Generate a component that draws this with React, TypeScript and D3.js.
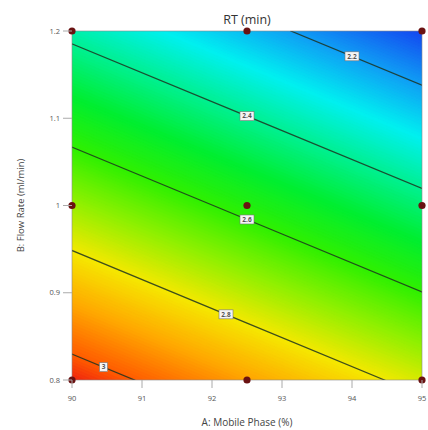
import React from "react";
import * as d3 from "d3";

// ---- data ----
const gridA = [90, 92.5, 95];
const gridB = [0.8, 1.0, 1.2];
// RT (min) at the grid points, rows by B (0.8, 1.0, 1.2), columns by A
const rtGrid = [
  [3.05, 2.91, 2.77],
  [2.713, 2.573, 2.433],
  [2.375, 2.235, 2.095],
];
const contourLevels = [2.2, 2.4, 2.6, 2.8, 3.0];
const contourLabels = ["2.2", "2.4", "2.6", "2.8", "3"];
const labelA = [94.0, 92.5, 92.5, 92.2, 90.45];
const designA = [90, 92.5, 95, 90, 92.5, 95, 90, 92.5, 95];
const designB = [0.8, 0.8, 0.8, 1.0, 1.0, 1.0, 1.2, 1.2, 1.2];
const xTicks = [90, 91, 92, 93, 94, 95];
const yTicks = [0.8, 0.9, 1, 1.1, 1.2];
const colorStops = [2.094, 2.2, 2.3, 2.4, 2.5, 2.6, 2.7, 2.8, 2.9, 3.0, 3.05];
const colorList = [
  "#1448f0", "#10a0f5", "#00f0f0", "#00f090", "#00ee30", "#30f000",
  "#90f000", "#f5e800", "#ffa800", "#ff5a00", "#ee2010",
];

const W = 428, H = 430;
const FONT = "'Open Sans', 'Noto Sans', sans-serif";

export default function App() {
  const x = d3.scaleLinear().domain([90, 95]).range([72, 422]);
  const y = d3.scaleLinear().domain([0.8, 1.2]).range([380, 31]);
  const nx = gridA.length, ny = gridB.length;
  const gx = d3.scaleLinear().domain([0.5, nx - 0.5]).range([x(gridA[0]), x(gridA[nx - 1])]);
  const gy = d3.scaleLinear().domain([0.5, ny - 0.5]).range([y(gridB[0]), y(gridB[ny - 1])]);
  const values = rtGrid.flat();
  const color = d3.scaleLinear<string>().domain(colorStops).range(colorList).interpolate(d3.interpolateRgb).clamp(true);

  const proj = d3.geoTransform({
    point(px: number, py: number) {
      (this as any).stream.point(gx(px), gy(py));
    },
  });
  const path = d3.geoPath(proj);

  const zmin = d3.min(values)!, zmax = d3.max(values)!;
  const fillThresholds = d3.range(zmin - 0.01, zmax, 0.006);
  const fills = d3.contours().size([nx, ny]).thresholds(fillThresholds)(values);
  const lines = d3.contours().size([nx, ny]).thresholds(contourLevels)(values);

  const x0 = x(90), x1 = x(95), yTop = y(1.2), yBot = y(0.8);

  const labels = lines.map((c, i) => {
    const tx = x(labelA[i]);
    let ly: number | null = null;
    c.coordinates.forEach((poly: any) =>
      poly.forEach((ring: any) => {
        for (let k = 0; k < ring.length - 1; k++) {
          const ax = gx(ring[k][0]), ay = gy(ring[k][1]);
          const bx = gx(ring[k + 1][0]), by = gy(ring[k + 1][1]);
          if ((ax - tx) * (bx - tx) <= 0 && ax !== bx) {
            const yy = ay + ((tx - ax) / (bx - ax)) * (by - ay);
            if (yy > yTop + 1 && yy < yBot - 1) ly = yy;
          }
        }
      })
    );
    return { x: tx, y: ly, text: contourLabels[i] };
  });

  return (
    <div style={{ position: "fixed", left: 0, top: 0 }}>
      <svg width={W} height={H} style={{ display: "block", background: "#fff" }}>
        <defs>
          <clipPath id="plotClip">
            <rect x={x0} y={yTop} width={x1 - x0} height={yBot - yTop} />
          </clipPath>
        </defs>
        <g clipPath="url(#plotClip)">
          {fills.map((c, i) => (
            <path key={i} d={path(c as any) || ""} fill={color(c.value)} stroke={color(c.value)} strokeWidth={0.6} />
          ))}
          {lines.map((c, i) => (
            <path key={"l" + i} d={path(c as any) || ""} fill="none" stroke="#1d3320" strokeWidth={1.3} strokeOpacity={0.85} />
          ))}
        </g>
        <rect x={x0} y={yTop} width={x1 - x0} height={yBot - yTop} fill="none" stroke="#8a8a8a" strokeWidth={0.6} />

        {labels.map((l, i) =>
          l.y == null ? null : (
            <g key={"lab" + i} transform={`translate(${l.x},${l.y})`}>
              <rect x={-(l.text.length * 3 + 5) / 2} y={-4.5} width={l.text.length * 3 + 5} height={9} fill="#f4f4f4" stroke="#777" strokeWidth={0.6} />
              <text x={0} y={2.3} fontSize={6.5} fontWeight="bold" textAnchor="middle" fill="#555" fontFamily={FONT}>{l.text}</text>
            </g>
          )
        )}

        {designA.map((a, i) => (
          <circle key={"p" + i} cx={x(a)} cy={y(designB[i])} r={3.6} fill="#6a1212" />
        ))}

        {xTicks.map((t) => (
          <g key={"xt" + t}>
            <line x1={x(t)} x2={x(t)} y1={yBot} y2={yBot + 8} stroke="#aaa" strokeWidth={1} />
            <text x={x(t)} y={401} fontSize={7.5} textAnchor="middle" fill="#555" fontFamily={FONT}>{t}</text>
          </g>
        ))}
        {yTicks.map((t) => (
          <g key={"yt" + t}>
            <line x1={x0 - 9} x2={x0} y1={y(t)} y2={y(t)} stroke="#aaa" strokeWidth={1} />
            <text x={x0 - 12} y={y(t) + 2.5} fontSize={7.5} textAnchor="end" fill="#555" fontFamily={FONT}>{t}</text>
          </g>
        ))}

        <text x={(x0 + x1) / 2} y={24} fontSize={12.5} textAnchor="middle" fill="#333" fontFamily={FONT}>RT (min)</text>
        <text x={(x0 + x1) / 2} y={426} fontSize={10} textAnchor="middle" fill="#444" fontFamily={FONT}>A: Mobile Phase (%)</text>
        <text transform={`translate(24,${(yTop + yBot) / 2}) rotate(-90)`} fontSize={9.5} textAnchor="middle" fill="#444" fontFamily={FONT}>B: Flow Rate (ml/min)</text>
      </svg>
    </div>
  );
}
